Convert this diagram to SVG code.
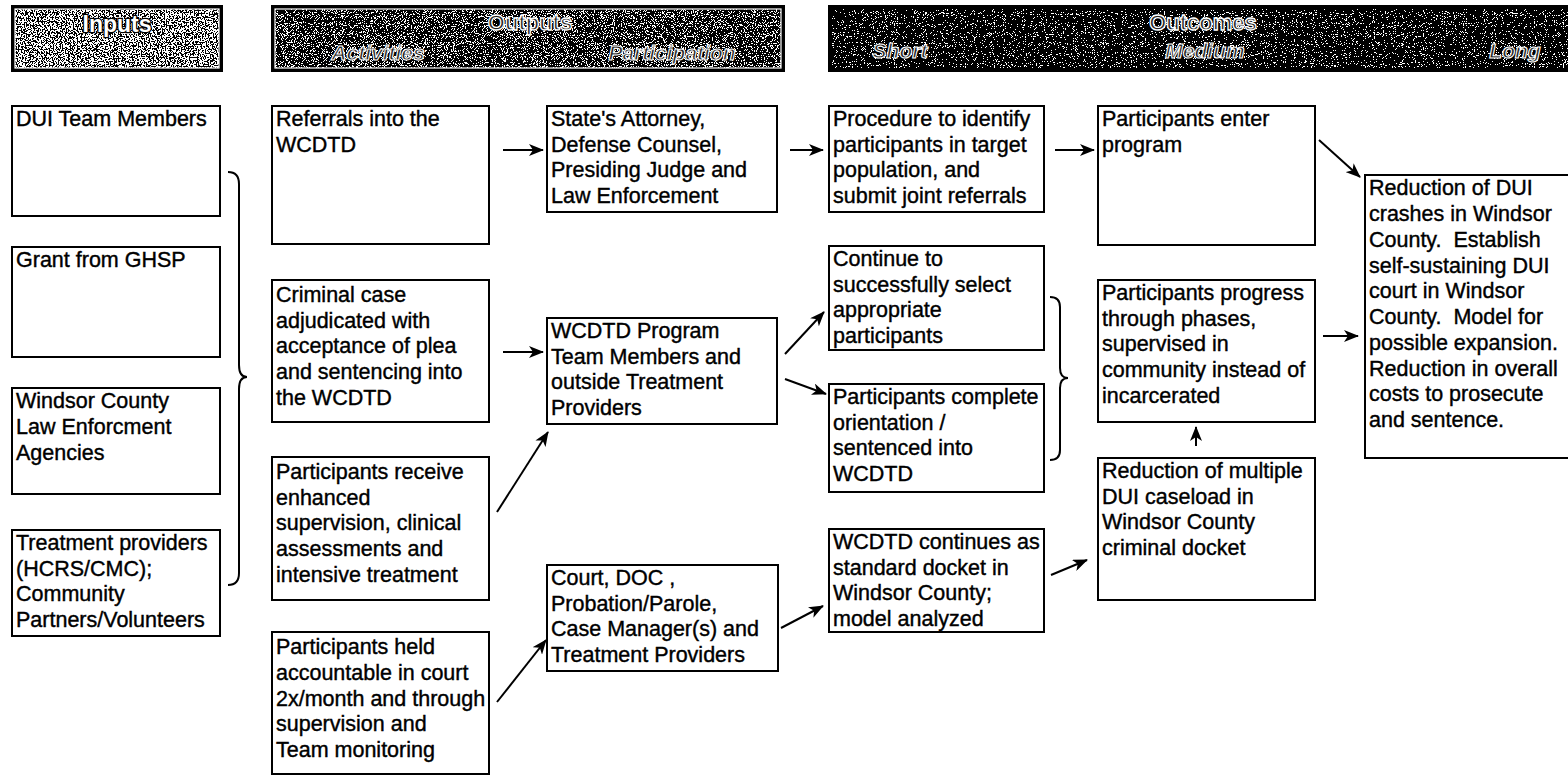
<svg xmlns="http://www.w3.org/2000/svg" width="1568" height="777" viewBox="0 0 1568 777">
<style>
  .box{fill:#fff;stroke:#000;stroke-width:2}
  .t{font-family:"Liberation Sans",Arial,sans-serif;font-size:21.5px;fill:#000;stroke:#000;stroke-width:0.4;white-space:pre}
  .hb{fill:#000;stroke:#000;stroke-width:2}
  .hin{fill:none;stroke:#fff;stroke-width:1.2}
  .h1{font-family:"Liberation Sans",Arial,sans-serif;font-weight:bold;font-size:23px;fill:#fff;stroke:#000;stroke-width:2.5;paint-order:stroke}
  .h2{font-family:"Liberation Sans",Arial,sans-serif;font-weight:bold;font-size:22px;fill:#222;stroke:#fff;stroke-width:1.3}
  .h2i{font-family:"Liberation Sans",Arial,sans-serif;font-weight:bold;font-style:italic;font-size:21px;fill:#222;stroke:#fff;stroke-width:1.1}
  .c{fill:none;stroke:#000;stroke-width:2}
</style>
<defs>
  <marker id="ah" markerUnits="userSpaceOnUse" markerWidth="16" markerHeight="12" refX="14" refY="6" orient="auto">
    <path d="M0,0 L15,6 L0,12 L4,6 z" fill="#000"/>
  </marker>
  <filter id="nz1" filterUnits="objectBoundingBox" x="0" y="0" width="1" height="1">
    <feTurbulence type="fractalNoise" baseFrequency="0.75" numOctaves="2" seed="4"/>
    <feColorMatrix type="matrix" values="0 0 0 0 1 0 0 0 0 1 0 0 0 0 1 1 0 0 0 0"/>
    <feComponentTransfer><feFuncA type="discrete" tableValues="0 0 0 0 0 1 1 1 1 1"/></feComponentTransfer>
  </filter>
  <filter id="nz2" filterUnits="objectBoundingBox" x="0" y="0" width="1" height="1">
    <feTurbulence type="fractalNoise" baseFrequency="0.9" numOctaves="2" seed="7"/>
    <feColorMatrix type="matrix" values="0 0 0 0 1 0 0 0 0 1 0 0 0 0 1 1 0 0 0 0"/>
    <feComponentTransfer><feFuncA type="discrete" tableValues="0 0 0 0 0 0 0 1 1 1 1 1"/></feComponentTransfer>
  </filter>
  <filter id="nz3" filterUnits="objectBoundingBox" x="0" y="0" width="1" height="1">
    <feTurbulence type="fractalNoise" baseFrequency="0.9" numOctaves="2" seed="11"/>
    <feColorMatrix type="matrix" values="0 0 0 0 1 0 0 0 0 1 0 0 0 0 1 1 0 0 0 0"/>
    <feComponentTransfer><feFuncA type="discrete" tableValues="0 0 0 0 0 0 0 0 0 0 0 0 0 1 1 1 1 1 1 1"/></feComponentTransfer>
  </filter>
</defs>
<rect width="1568" height="777" fill="#fff"/>

<g id="header-inputs">
  <rect class="hb" x="12" y="6" width="210" height="65"/>
  <rect x="15" y="9" width="204" height="59" fill="#fff" filter="url(#nz1)"/>
  <rect class="hin" x="15" y="9" width="204" height="59"/>
  <text class="h1" x="117" y="32" text-anchor="middle">Inputs</text>
</g>
<g id="header-outputs">
  <rect class="hb" x="272" y="6" width="512" height="65"/>
  <rect x="275" y="9" width="506" height="59" fill="#fff" filter="url(#nz2)"/>
  <rect class="hin" x="275" y="9" width="506" height="59"/>
  <text class="h2" x="530" y="30" text-anchor="middle">Outputs</text>
  <text class="h2i" x="378" y="60" text-anchor="middle">Activities</text>
  <text class="h2i" x="672" y="60" text-anchor="middle">Participation</text>
</g>
<g id="header-outcomes">
  <rect class="hb" x="829" y="6" width="745" height="65"/>
  <rect x="832" y="9" width="740" height="59" fill="#fff" filter="url(#nz3)"/>
  <text class="h2" x="1203" y="30" text-anchor="middle">Outcomes</text>
  <text class="h2i" x="900" y="58" text-anchor="middle">Short</text>
  <text class="h2i" x="1205" y="58" text-anchor="middle">Medium</text>
  <text class="h2i" x="1515" y="58" text-anchor="middle">Long</text>
</g>

<g id="a1"><rect class="box" x="12" y="106" width="208" height="110"/>
  <text class="t" x="16" y="126">DUI Team Members</text></g>
<g id="a2"><rect class="box" x="12" y="247" width="208" height="110"/>
  <text class="t" x="16" y="267">Grant from GHSP</text></g>
<g id="a3"><rect class="box" x="12" y="388" width="208" height="106"/>
  <text class="t" x="16" y="408">Windsor County</text>
  <text class="t" x="16" y="434">Law Enforcment</text>
  <text class="t" x="16" y="460">Agencies</text></g>
<g id="a4"><rect class="box" x="12" y="530" width="208" height="106"/>
  <text class="t" x="16" y="550">Treatment providers</text>
  <text class="t" x="16" y="576">(HCRS/CMC);</text>
  <text class="t" x="16" y="601">Community</text>
  <text class="t" x="16" y="627">Partners/Volunteers</text></g>

<g id="b1"><rect class="box" x="272" y="106" width="217" height="138"/>
  <text class="t" x="276" y="126">Referrals into the</text>
  <text class="t" x="276" y="152">WCDTD</text></g>
<g id="b2"><rect class="box" x="272" y="280" width="217" height="142"/>
  <text class="t" x="276" y="302">Criminal case</text>
  <text class="t" x="276" y="328">adjudicated with</text>
  <text class="t" x="276" y="353">acceptance of plea</text>
  <text class="t" x="276" y="379">and sentencing into</text>
  <text class="t" x="276" y="405">the WCDTD</text></g>
<g id="b3"><rect class="box" x="272" y="457" width="217" height="143"/>
  <text class="t" x="276" y="479">Participants receive</text>
  <text class="t" x="276" y="505">enhanced</text>
  <text class="t" x="276" y="530">supervision, clinical</text>
  <text class="t" x="276" y="556">assessments and</text>
  <text class="t" x="276" y="582">intensive treatment</text></g>
<g id="b4"><rect class="box" x="272" y="632" width="217" height="142"/>
  <text class="t" x="276" y="654">Participants held</text>
  <text class="t" x="276" y="680">accountable in court</text>
  <text class="t" x="276" y="706">2x/month and through</text>
  <text class="t" x="276" y="731">supervision and</text>
  <text class="t" x="276" y="757">Team monitoring</text></g>

<g id="c1"><rect class="box" x="547" y="106" width="230" height="106"/>
  <text class="t" x="551" y="126">State's Attorney,</text>
  <text class="t" x="551" y="152">Defense Counsel,</text>
  <text class="t" x="551" y="177">Presiding Judge and</text>
  <text class="t" x="551" y="203">Law Enforcement</text></g>
<g id="c2"><rect class="box" x="547" y="318" width="230" height="106"/>
  <text class="t" x="551" y="338">WCDTD Program</text>
  <text class="t" x="551" y="364">Team Members and</text>
  <text class="t" x="551" y="389">outside Treatment</text>
  <text class="t" x="551" y="415">Providers</text></g>
<g id="c3"><rect class="box" x="547" y="565" width="231" height="106"/>
  <text class="t" x="551" y="585">Court, DOC ,</text>
  <text class="t" x="551" y="611">Probation/Parole,</text>
  <text class="t" x="551" y="636">Case Manager(s) and</text>
  <text class="t" x="551" y="662">Treatment Providers</text></g>

<g id="d1"><rect class="box" x="829" y="106" width="215" height="106"/>
  <text class="t" x="833" y="126">Procedure to identify</text>
  <text class="t" x="833" y="152">participants in target</text>
  <text class="t" x="833" y="177">population, and</text>
  <text class="t" x="833" y="203">submit joint referrals</text></g>
<g id="d2"><rect class="box" x="829" y="246" width="215" height="104"/>
  <text class="t" x="833" y="266">Continue to</text>
  <text class="t" x="833" y="292">successfully select</text>
  <text class="t" x="833" y="317">appropriate</text>
  <text class="t" x="833" y="343">participants</text></g>
<g id="d3"><rect class="box" x="829" y="384" width="215" height="108"/>
  <text class="t" x="833" y="404">Participants complete</text>
  <text class="t" x="833" y="430">orientation /</text>
  <text class="t" x="833" y="455">sentenced into</text>
  <text class="t" x="833" y="481">WCDTD</text></g>
<g id="d4"><rect class="box" x="829" y="529" width="215" height="103"/>
  <text class="t" x="833" y="549">WCDTD continues as</text>
  <text class="t" x="833" y="575">standard docket in</text>
  <text class="t" x="833" y="600">Windsor County;</text>
  <text class="t" x="833" y="626">model analyzed</text></g>

<g id="e1"><rect class="box" x="1098" y="106" width="217" height="139"/>
  <text class="t" x="1102" y="126">Participants enter</text>
  <text class="t" x="1102" y="152">program</text></g>
<g id="e2"><rect class="box" x="1098" y="280" width="217" height="142"/>
  <text class="t" x="1102" y="300">Participants progress</text>
  <text class="t" x="1102" y="326">through phases,</text>
  <text class="t" x="1102" y="351">supervised in</text>
  <text class="t" x="1102" y="377">community instead of</text>
  <text class="t" x="1102" y="403">incarcerated</text></g>
<g id="e3"><rect class="box" x="1098" y="458" width="217" height="142"/>
  <text class="t" x="1102" y="478">Reduction of multiple</text>
  <text class="t" x="1102" y="504">DUI caseload in</text>
  <text class="t" x="1102" y="529">Windsor County</text>
  <text class="t" x="1102" y="555">criminal docket</text></g>

<g id="f1"><rect class="box" x="1365" y="175" width="210" height="283"/>
  <text class="t" x="1369" y="195">Reduction of DUI</text>
  <text class="t" x="1369" y="221">crashes in Windsor</text>
  <text class="t" x="1369" y="247">County.  Establish</text>
  <text class="t" x="1369" y="273">self-sustaining DUI</text>
  <text class="t" x="1369" y="298">court in Windsor</text>
  <text class="t" x="1369" y="324">County.  Model for</text>
  <text class="t" x="1369" y="350">possible expansion.</text>
  <text class="t" x="1369" y="376">Reduction in overall</text>
  <text class="t" x="1369" y="401">costs to prosecute</text>
  <text class="t" x="1369" y="427">and sentence.</text></g>

<g id="connectors">
  <path class="c" d="M228,172 Q239,172 239,184 L239,365 Q239,377 247,377 Q239,377 239,389 L239,573 Q239,585 228,585"/>
  <path class="c" d="M1050,297 Q1060,297 1060,307 L1060,368 Q1060,378 1068,378 Q1060,378 1060,388 L1060,450 Q1060,460 1050,460"/>
  <line class="c" x1="503" y1="150" x2="543" y2="150" marker-end="url(#ah)"/>
  <line class="c" x1="790" y1="150" x2="823" y2="150" marker-end="url(#ah)"/>
  <line class="c" x1="1055" y1="150" x2="1094" y2="150" marker-end="url(#ah)"/>
  <line class="c" x1="503" y1="352" x2="543" y2="352" marker-end="url(#ah)"/>
  <line class="c" x1="497" y1="512" x2="548" y2="432" marker-end="url(#ah)"/>
  <line class="c" x1="497" y1="702" x2="546" y2="640" marker-end="url(#ah)"/>
  <line class="c" x1="785" y1="354" x2="824" y2="312" marker-end="url(#ah)"/>
  <line class="c" x1="785" y1="379" x2="826" y2="394" marker-end="url(#ah)"/>
  <line class="c" x1="781" y1="628" x2="823" y2="606" marker-end="url(#ah)"/>
  <line class="c" x1="1051" y1="575" x2="1087" y2="560" marker-end="url(#ah)"/>
  <line class="c" x1="1196" y1="446" x2="1196" y2="427" marker-end="url(#ah)"/>
  <line class="c" x1="1319" y1="140" x2="1360" y2="177" marker-end="url(#ah)"/>
  <line class="c" x1="1323" y1="336" x2="1358" y2="336" marker-end="url(#ah)"/>
</g>
</svg>
